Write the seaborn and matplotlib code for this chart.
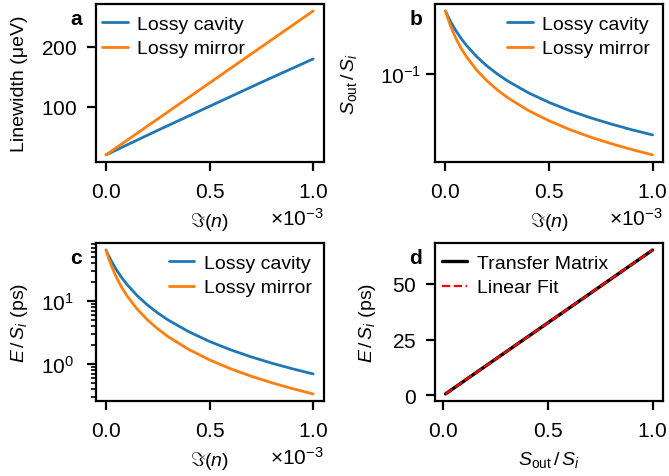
import numpy as np
import seaborn as sns
import matplotlib.pyplot as plt
from matplotlib.ticker import NullLocator

# Im(n) sample points, in units of 1e-3
imag_n = [0, 0.01, 0.025, 0.05, 0.075, 0.1, 0.15, 0.2, 0.25, 0.3,
          0.4, 0.5, 0.6, 0.7, 0.8, 0.9, 1.0]

# panel a: linewidth (ueV)
lw_n = [0, 0.25, 0.5, 0.75, 1.0]
lw_cavity = [20, 61, 101, 141, 180]
lw_mirror = [20, 80, 140, 200, 260]

# panel b: S_out / S_i
sout_cavity = [1.0, 0.846, 0.675, 0.486, 0.366, 0.286, 0.188, 0.133, 0.0992,
               0.0767, 0.0498, 0.0349, 0.0258, 0.0199, 0.0158, 0.0128, 0.0106]
sout_mirror = [1.0, 0.783, 0.570, 0.367, 0.256, 0.189, 0.115, 0.0772, 0.0554,
               0.0416, 0.0260, 0.0178, 0.0129, 0.0098, 0.0077, 0.0062, 0.0051]

# panel c: E / S_i (ps)
e_cavity = [65.0, 55.0, 43.85, 31.57, 23.80, 18.59, 12.23, 8.658, 6.448,
            4.988, 3.239, 2.271, 1.680, 1.293, 1.026, 0.834, 0.691]
e_mirror = [65.0, 50.90, 37.02, 23.88, 16.66, 12.29, 7.469, 5.015, 3.599,
            2.707, 1.691, 1.156, 0.839, 0.637, 0.500, 0.403, 0.332]

# panel d: linear fit
fit_x = [0.0106, 1.0]
fit_y = [0.69, 65.0]

blue = "#1f77b4"
orange = "#ff7f0e"

sns.set_theme(style="ticks")
plt.rcParams.update({
    "font.family": ["Liberation Sans", "DejaVu Sans"],
    "font.size": 14,
    "axes.labelsize": 14,
    "xtick.labelsize": 15,
    "ytick.labelsize": 15,
    "legend.fontsize": 14,
    "axes.linewidth": 1.6,
    "axes.edgecolor": "black",
    "axes.labelcolor": "black",
    "axes.labelpad": 6,
    "text.color": "black",
    "xtick.color": "black",
    "ytick.color": "black",
    "xtick.major.size": 6.5,
    "ytick.major.size": 6.5,
    "xtick.major.width": 1.6,
    "ytick.major.width": 1.6,
    "ytick.minor.size": 3.5,
    "ytick.minor.width": 1.2,
    "xtick.major.pad": 8,
    "ytick.major.pad": 7,
    "ytick.minor.pad": 7,
    "mathtext.fontset": "custom",
    "mathtext.rm": "Liberation Sans",
    "mathtext.it": "Liberation Sans:italic",
    "mathtext.bf": "Liberation Sans:bold",
    "axes.formatter.use_mathtext": True,
})

x = np.array(imag_n) * 1e-3
xa = np.array(lw_n) * 1e-3

fig, axes = plt.subplots(2, 2, figsize=(6.69, 4.77), dpi=100)
fig.subplots_adjust(left=0.143, right=0.991, top=0.99, bottom=0.157,
                    wspace=0.49, hspace=0.51)
ax_a, ax_b, ax_c, ax_d = axes.flat

leg_kw = dict(frameon=False, handlelength=1.3, handletextpad=0.5,
              labelspacing=0.35, borderaxespad=0.2, borderpad=0.15)

# a
sns.lineplot(x=xa, y=lw_cavity, ax=ax_a, color=blue, lw=2, label="Lossy cavity")
sns.lineplot(x=xa, y=lw_mirror, ax=ax_a, color=orange, lw=2, label="Lossy mirror")
ax_a.set_ylabel("Linewidth (μeV)", labelpad=9)
ax_a.legend(loc="upper left", bbox_to_anchor=(0, 0.97), **leg_kw)

# b
sns.lineplot(x=x, y=sout_cavity, ax=ax_b, color=blue, lw=2, label="Lossy cavity")
sns.lineplot(x=x, y=sout_mirror, ax=ax_b, color=orange, lw=2, label="Lossy mirror")
ax_b.set_yscale("log")
ax_b.set_yticks([0.1])
ax_b.yaxis.set_minor_locator(NullLocator())
ax_b.tick_params(axis="y", pad=3.5)
ax_b.set_ylabel(r"$S_\mathrm{out}\,/\,S_i$", labelpad=15)
ax_b.legend(loc="upper right", bbox_to_anchor=(0.974, 0.97), **leg_kw)

# c
sns.lineplot(x=x, y=e_cavity, ax=ax_c, color=blue, lw=2, label="Lossy cavity")
sns.lineplot(x=x, y=e_mirror, ax=ax_c, color=orange, lw=2, label="Lossy mirror")
ax_c.set_yscale("log")
ax_c.tick_params(axis="y", which="both", pad=9)
ax_c.set_ylabel(r"$E\,/\,S_i$ (ps)", labelpad=8)
ax_c.legend(loc="upper right", bbox_to_anchor=(0.98, 0.97), **leg_kw)

for ax in (ax_a, ax_b, ax_c):
    ax.set_xticks([0, 0.5e-3, 1e-3])
    ax.ticklabel_format(axis="x", style="sci", scilimits=(0, 0), useMathText=True)
    ax.xaxis.get_offset_text().set_fontsize(15)
    ax.xaxis.OFFSETTEXTPAD = 4
    ax.set_xlabel(r"$\Im(n)$")

# d
sns.lineplot(x=sout_cavity, y=e_cavity, ax=ax_d, color="black", lw=2.4,
             label="Transfer Matrix")
sns.lineplot(x=fit_x, y=fit_y, ax=ax_d, color="red", lw=1.6, ls="--",
             label="Linear Fit")
ax_d.set_xticks([0, 0.5, 1.0])
ax_d.set_yticks([0, 25, 50])
ax_d.set_xlabel(r"$S_\mathrm{out}\,/\,S_i$")
ax_d.set_ylabel(r"$E\,/\,S_i$ (ps)", labelpad=10)
ax_d.legend(loc="upper left", bbox_to_anchor=(0, 0.97), **leg_kw)

for ax, letter in zip(axes.flat, "abcd"):
    ax.text(-0.086, 0.875, letter, transform=ax.transAxes, fontsize=15,
            fontweight="bold", ha="center", va="baseline")

fig.savefig("out.png", dpi=100)
